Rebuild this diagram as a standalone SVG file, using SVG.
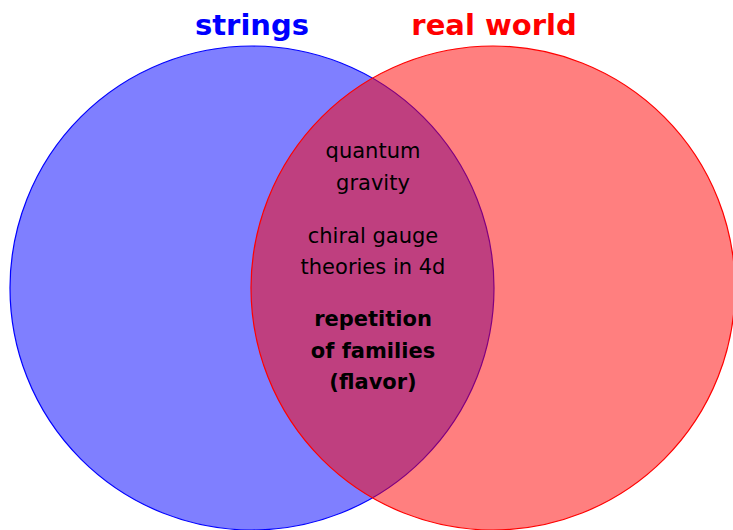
<svg xmlns="http://www.w3.org/2000/svg" width="733" height="530" viewBox="0 0 733 530">
<style>
.t{font-family:"DejaVu Sans",sans-serif;font-size:21px;fill:#000;text-anchor:middle}
.b{font-weight:bold}
.h{font-family:"DejaVu Sans",sans-serif;font-size:29px;font-weight:bold;text-anchor:middle}
</style>
<rect width="733" height="530" fill="#fff"/>
<g id="strings">
<circle cx="252" cy="288" r="242" fill="#0000ff" fill-opacity="0.5" stroke="#0000ff" stroke-width="1.2"/>
<text class="h" x="252" y="35" fill="#0000ff">strings</text>
</g>
<g id="realworld">
<circle cx="493" cy="288" r="242" fill="#ff0000" fill-opacity="0.5" stroke="#ff0000" stroke-width="1.2"/>
<text class="h" x="494" y="35" fill="#ff0000">real world</text>
</g>
<g id="overlap">
<text class="t" x="373" y="158">quantum</text>
<text class="t" x="373" y="190">gravity</text>
<text class="t" x="373" y="243">chiral gauge</text>
<text class="t" x="373" y="274">theories in 4d</text>
<text class="t b" x="373" y="326">repetition</text>
<text class="t b" x="373" y="358">of families</text>
<text class="t b" x="373" y="389">(flavor)</text>
</g>
<g id="connectors"/>
</svg>
